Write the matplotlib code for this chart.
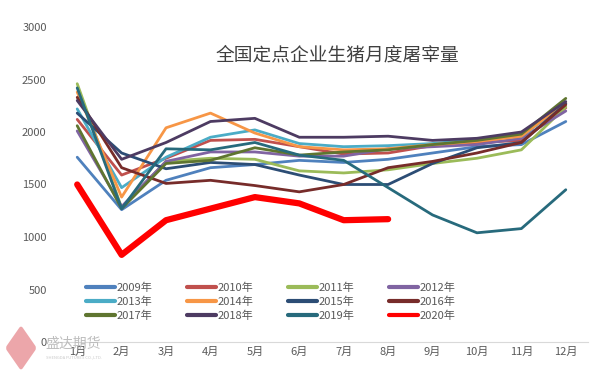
import numpy as np
import matplotlib.pyplot as plt
from matplotlib.patches import FancyBboxPatch
import matplotlib.transforms as mtransforms

plt.rcParams['font.family'] = ['Noto Sans CJK SC', 'DejaVu Sans']

months = ['1月', '2月', '3月', '4月', '5月', '6月', '7月', '8月', '9月', '10月', '11月', '12月']

y2009 = [1760, 1260, 1540, 1660, 1690, 1730, 1710, 1740, 1800, 1860, 1880, 2100]
y2010 = [2120, 1590, 1750, 1920, 1930, 1860, 1790, 1800, 1870, 1900, 1920, 2230]
y2011 = [2460, 1280, 1720, 1750, 1740, 1630, 1610, 1640, 1700, 1750, 1830, 2240]
y2012 = [2010, 1290, 1720, 1810, 1810, 1770, 1770, 1840, 1860, 1880, 1940, 2200]
y2013 = [2220, 1470, 1760, 1950, 2020, 1890, 1860, 1870, 1890, 1930, 1960, 2270]
y2014 = [2380, 1380, 2040, 2180, 1990, 1860, 1830, 1840, 1880, 1910, 1960, 2280]
y2015 = [2180, 1800, 1650, 1710, 1690, 1590, 1500, 1500, 1700, 1850, 1900, 2270]
y2016 = [2330, 1660, 1510, 1540, 1490, 1430, 1500, 1660, 1720, 1800, 1900, 2260]
y2017 = [2060, 1270, 1700, 1730, 1850, 1780, 1810, 1830, 1880, 1920, 1980, 2320]
y2018 = [2300, 1740, 1900, 2100, 2130, 1950, 1950, 1960, 1920, 1940, 2000, 2290]
y2019 = [2420, 1270, 1840, 1830, 1900, 1780, 1730, 1470, 1210, 1040, 1080, 1450]
y2020 = [1500, 830, 1160, 1270, 1380, 1320, 1160, 1170]

series = [
    ('2009年', y2009, '#4F81BD'),
    ('2010年', y2010, '#C0504D'),
    ('2011年', y2011, '#9BBB59'),
    ('2012年', y2012, '#8064A2'),
    ('2013年', y2013, '#4BACC6'),
    ('2014年', y2014, '#F79646'),
    ('2015年', y2015, '#2C4D75'),
    ('2016年', y2016, '#772C2A'),
    ('2017年', y2017, '#5F7530'),
    ('2018年', y2018, '#4D3B62'),
    ('2019年', y2019, '#276A7C'),
    ('2020年', y2020, '#FF0000'),
]

fig = plt.figure(figsize=(6.05, 3.78), dpi=100)
ax = fig.add_axes([55/605, 36/378, 533/605, 315/378])

# watermark logo (drawn first, behind everything)
logo = FancyBboxPatch((-11, -11), 22, 22, boxstyle='round,pad=3',
                      facecolor='#E9979B', edgecolor='none', alpha=0.85)
rot = mtransforms.Affine2D().rotate_deg(45).scale(0.8, 1.15).translate(21, 378 - 348)
logo.set_transform(rot)
fig.patches.append(logo)
fig.text(45/605, 1 - 344/378, '盛达期货', fontsize=10, color='#BDBDBD', va='center')
fig.text(46/605, 1 - 357/378, 'SHENGDA FUTURES CO.,LTD.', fontsize=3, color='#C8C8C8', va='center')

x = np.arange(len(months))
handles = []
for name, vals, col in series:
    lw = 4.5 if name == '2020年' else 2.0
    h, = ax.plot(x[:len(vals)], vals, color=col, lw=lw, label=name, solid_capstyle='round')
    handles.append(h)

ax.set_xlim(-0.5, 11.5)
ax.set_ylim(0, 3000)
ax.set_yticks(np.arange(0, 3001, 500))
ax.set_xticks(x)
ax.set_xticklabels(months)
ax.tick_params(axis='both', length=0, labelsize=8, colors='#595959')
ax.tick_params(axis='y', pad=6)
for s in ['top', 'right', 'left']:
    ax.spines[s].set_visible(False)
ax.spines['bottom'].set_color('#D9D9D9')

fig.text(337/605, 1 - 55/378, '全国定点企业生猪月度屠宰量', ha='center', va='center',
         fontsize=13.5, fontweight='medium', color='#404040')

# row-wise legend order
order = [0, 4, 8, 1, 5, 9, 2, 6, 10, 3, 7, 11]
leg = ax.legend([handles[i] for i in order], [series[i][0] for i in order],
                loc='upper left', bbox_to_anchor=(27/533, 1 - (278 - 27)/315), ncol=4,
                frameon=False, fontsize=8, handlelength=2.6, handletextpad=0.15,
                columnspacing=3.1, labelspacing=0.35, borderaxespad=0)
for t in leg.get_texts():
    t.set_color('#595959')
for ln in leg.get_lines():
    ln.set_linewidth(3.0)

fig.savefig('out.png', dpi=100)
